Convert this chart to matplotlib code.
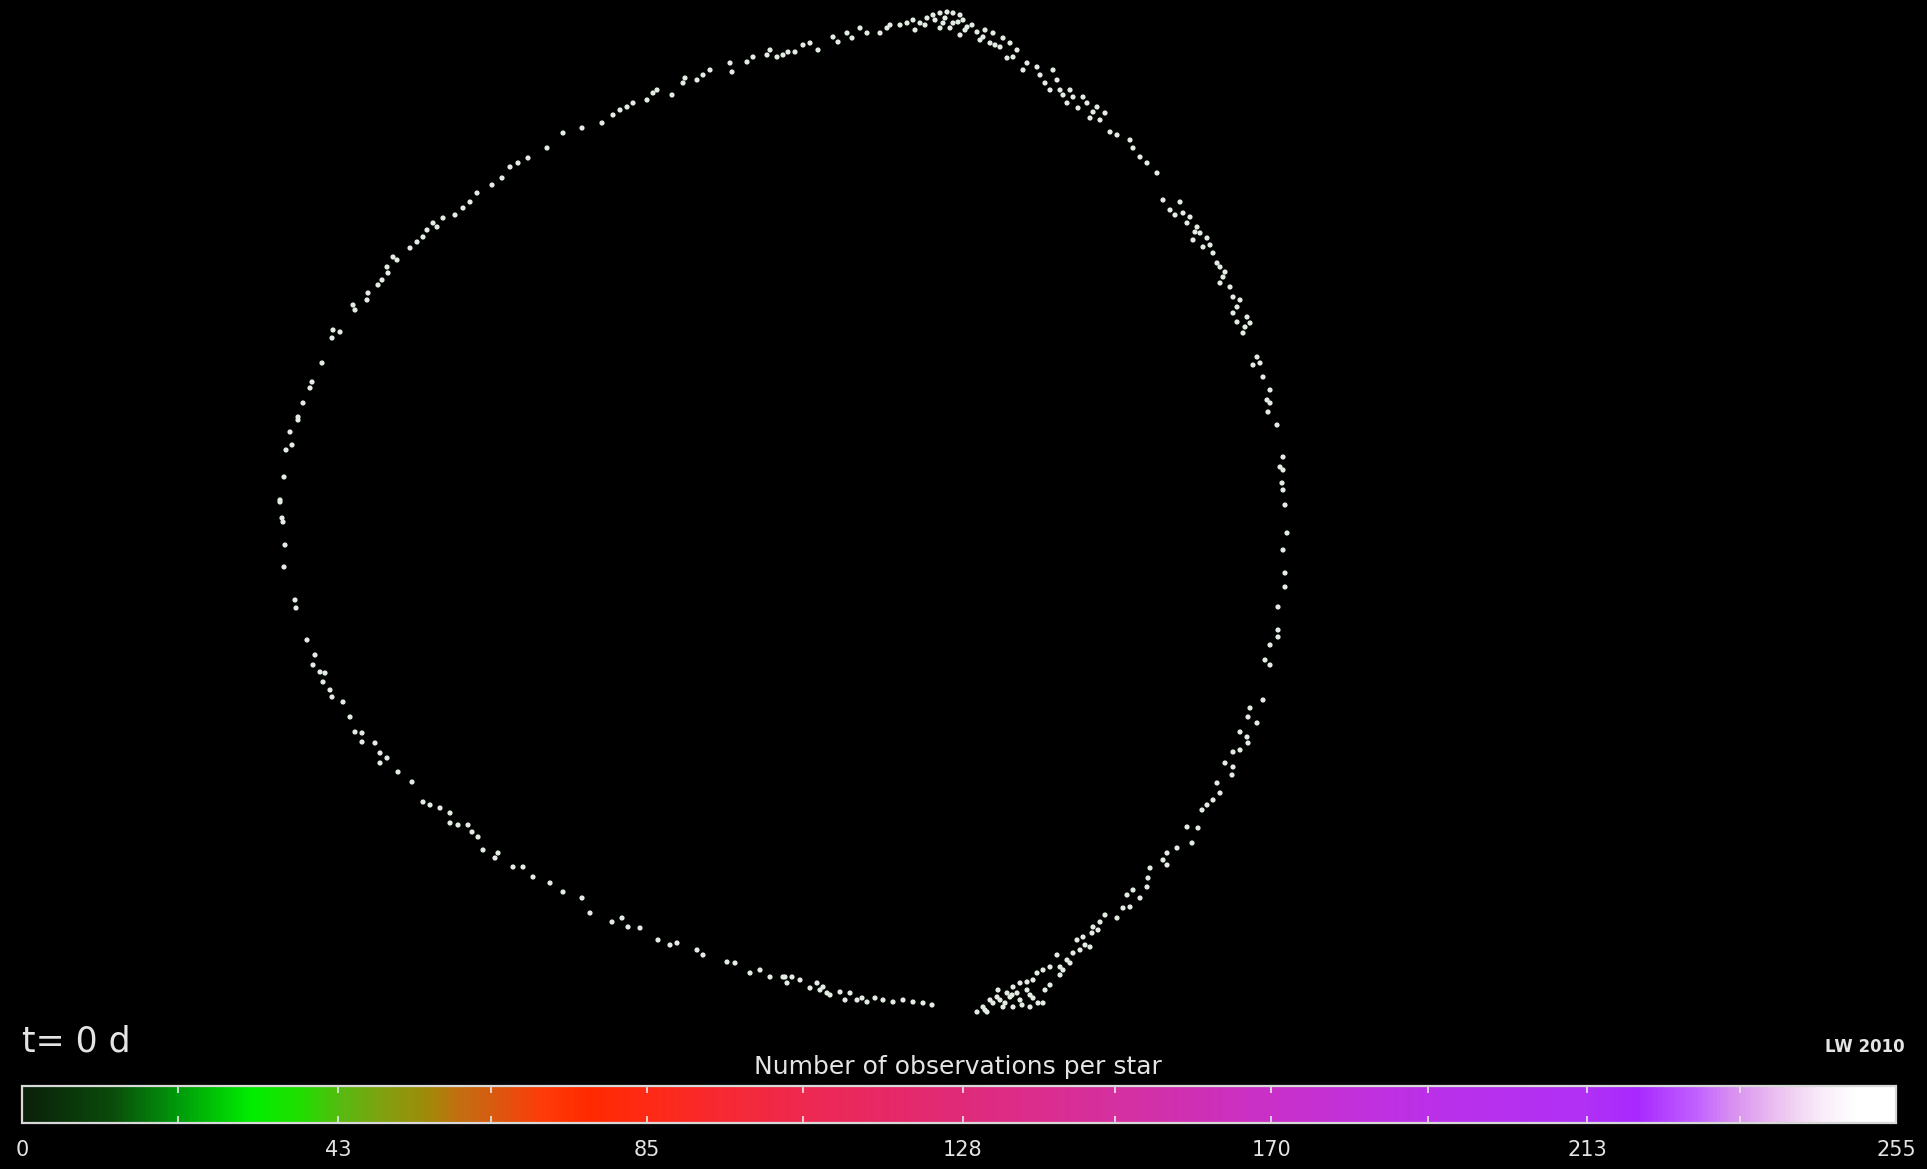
import matplotlib
matplotlib.use("Agg")
import matplotlib.pyplot as plt
from matplotlib.colors import LinearSegmentedColormap, Normalize
from matplotlib.cm import ScalarMappable

# star positions on the sky map (pixel frame, y grows downward)
star_x = [
    282, 280, 284, 286, 292, 290, 298, 298, 303, 310, 312, 322, 332, 340, 333,
    355, 353, 367, 368, 378, 382, 388, 387, 397, 393, 410, 417, 423, 427, 433,
    437, 443, 455, 463, 470, 477, 492, 502, 510, 518, 528, 547, 563, 582, 602,
    613, 620, 627, 633, 647, 653, 657, 672, 683, 685, 697, 703, 710, 732, 730,
    747, 753, 767, 777, 770, 788,
    783, 795, 803, 810, 818, 833, 838, 847, 852, 860, 867, 880, 887, 890, 900,
    907, 913, 920, 927, 933, 940, 947, 953, 960, 963, 943, 953, 967, 977, 983,
    993, 990, 1000, 1010, 1017, 1013, 1007, 1027, 1023, 1037, 1053, 1045, 1057,
    1060, 1070, 1073, 1067, 1083, 1087, 1097, 1105, 1090, 1110, 1117, 1130,
    1133, 1140, 1147, 1157, 1163, 1170, 1180, 1183, 1190, 1187, 1197, 1200,
    1193, 1207, 1203, 1213, 1217, 1220, 1223, 1220, 1230, 1233, 1237, 1233,
    1247, 1250, 1237, 1243, 1257, 1260, 1253, 1263, 1270, 1267, 1270, 1268,
    1277, 1283, 1280, 1283, 1282, 1283, 1285,
    1287, 1283, 1285, 1285, 1278, 1278, 1278, 1270, 1265, 1270, 1263, 1250,
    1248, 1257, 1240, 1247, 1248, 1240, 1233, 1225, 1233, 1232, 1217, 1220,
    1213, 1207, 1202, 1187, 1198, 1192, 1177, 1167, 1163, 1167, 1150, 1148,
    1147, 1133, 1127, 1140, 1130, 1123, 1117, 1105, 1100, 1093, 1092, 1083,
    1077, 1090, 1080, 1073, 1067, 1057, 1060, 1063, 1050, 1043, 1037, 1033,
    1027, 1020, 1013, 1027, 1017, 1010, 1007, 1000, 997, 1020, 1033, 1043,
    1030, 1013, 1003, 993, 983, 977, 987,
    932, 923, 913, 903, 893, 883, 875, 867, 857, 850, 840, 827, 820, 817, 823,
    800, 792, 783,
    280, 283, 285, 284, 295, 296, 307, 315, 313, 320, 325, 323, 330, 332, 343,
    350, 355, 362, 362, 375, 380, 387, 380, 398, 412, 423, 430, 440, 450, 450,
    458, 468, 472, 478, 483, 498, 495, 513, 523, 533, 550, 563, 582, 590, 612,
    622, 628, 640, 658, 670, 677, 697, 703, 727, 735, 750, 760, 770, 785, 787,
    # denser clumps near the top and lower right
    925, 935, 945, 950, 958, 965, 972, 980, 985, 995, 1003, 960, 940, 915,
    1040, 1050, 1063, 1078, 1093, 1100, 1175, 1195, 1210, 1225, 1240, 1245,
    990, 998, 1005, 1012, 1022, 1030, 1038, 985, 1045, 1050, 1060, 1070, 1085,
    1098, 830, 845, 862, 810,
]
star_y = [
    518, 500, 477, 450, 445, 432, 420, 417, 403, 388, 382, 363, 338, 332, 330,
    310, 305, 300, 293, 285, 280, 273, 267, 260, 257, 248, 242, 237, 230, 223,
    227, 218, 215, 208, 202, 193, 185, 178, 167, 163, 158, 148, 133, 128, 123,
    115, 110, 107, 103, 100, 93, 90, 95, 83, 78, 80, 75, 70, 72, 63,
    62, 57, 55, 57, 50, 52,
    55, 52, 45, 43, 50, 37, 42, 33, 38, 28, 33, 33, 28, 25, 25,
    23, 20, 23, 18, 15, 13, 12, 13, 15, 20, 23, 23, 27, 32, 37,
    33, 43, 47, 43, 50, 57, 58, 63, 70, 67, 70, 83, 80,
    90, 90, 97, 103, 97, 103, 107, 113, 118, 132, 135, 140,
    148, 157, 163, 173, 200, 210, 202, 213, 217, 223, 227, 233,
    240, 238, 247, 253, 263, 267, 277, 283, 287, 297, 307, 313,
    317, 323, 322, 333, 357, 363, 365, 377, 390, 400, 403, 412,
    425, 457, 467, 470, 483, 490, 505,
    533, 550, 573, 587, 607, 630, 637, 645, 660, 665, 700, 708,
    717, 723, 732, 737, 743, 750, 752, 763, 767, 775, 783, 793,
    800, 805, 810, 827, 828, 843, 848, 853, 860, 865, 868, 878,
    887, 890, 895, 898, 907, 908, 918, 915, 922, 927, 933, 937,
    940, 947, 950, 953, 960, 955, 967, 970, 967, 970, 973, 980,
    982, 983, 987, 990, 993, 997, 993, 1000, 997, 1000, 998, 1003,
    1007, 1007, 1007, 1003, 1007, 1012, 1012,
    1005, 1003, 1002, 1000, 1002, 1000, 998, 1002, 1000, 993, 992, 993, 990, 983, 987,
    980, 977, 977,
    502, 522, 545, 567, 600, 608, 640, 655, 665, 672, 673, 682, 690, 697, 702,
    717, 732, 733, 742, 743, 753, 758, 763, 772, 782, 802, 805, 808, 813, 823,
    825, 825, 832, 837, 850, 853, 858, 867, 867, 877, 883, 892, 898, 913, 922,
    918, 927, 928, 940, 945, 943, 950, 955, 962, 963, 973, 970, 977, 977, 983,
    25, 20, 18, 28, 22, 30, 25, 40, 30, 45, 38, 35, 28, 30,
    75, 90, 95, 108, 112, 120, 215, 232, 245, 272, 300, 327,
    1000, 990, 1003, 995, 1005, 995, 1003, 1010, 990, 985, 975, 963, 945,
    930, 995, 1000, 998, 988,
]

# colour scale for the number of observations
cbar_stops = [0, 12, 21, 31, 38, 43, 49, 55, 59, 64, 71, 77, 85, 106, 127,
              149, 170, 191, 213, 220, 228, 233, 239, 245, 250, 255]
cbar_colors = ["#0a200a", "#0a4a0a", "#009a0a", "#00ee00", "#22dd00", "#55bb10",
               "#80a010", "#a08a08", "#c07010", "#d85a10", "#ff3a08", "#ff2a00",
               "#ff2a15", "#ee2850", "#e02a78", "#d530a0", "#c830c8", "#bb30e8",
               "#b030f5", "#a828ff", "#c060ff", "#d890f0", "#ecc0f0", "#f8ecf8",
               "#ffffff", "#ffffff"]
tick_values = [0, 43, 85, 128, 170, 213, 255]
tick_labels = ["0", "43", "85", "128", "170", "213", "255"]
minor_values = [21.25, 63.75, 106.25, 148.75, 191.25, 233.75]

W, H = 1927, 1169
fig = plt.figure(figsize=(W / 100, H / 100), dpi=100, facecolor="black")

ax = fig.add_axes([0, 0, 1, 1])
ax.set_facecolor("black")
ax.set_xlim(0, W)
ax.set_ylim(H, 0)
ax.axis("off")

ax.scatter(star_x, star_y, s=14, color="#e2ece2", edgecolors="none")

txt = "#e4e4e4"
ax.text(22, 1042, "t= 0 d", color=txt, fontsize=25, va="center", ha="left")
ax.text(1905, 1047, "LW 2010", color=txt, fontsize=12, va="center", ha="right",
        fontweight="bold")
ax.text(958, 1067, "Number of observations per star", color=txt, fontsize=18,
        va="center", ha="center")

# horizontal colour bar
cmap = LinearSegmentedColormap.from_list(
    "obs", [(v / 255, c) for v, c in zip(cbar_stops, cbar_colors)], N=512)
cax = fig.add_axes([22 / W, 1 - 1123 / H, 1874 / W, 37 / H])
cb = fig.colorbar(ScalarMappable(norm=Normalize(0, 255), cmap=cmap), cax=cax,
                  orientation="horizontal")
cb.outline.set_edgecolor("#d8d8d8")
cb.outline.set_linewidth(1.6)
cb.set_ticks(tick_values, labels=tick_labels)
cax.set_xticks(minor_values, minor=True)
cax.tick_params(which="both", direction="in", length=5, width=1.2,
                color="#e8e8e8", top=True, bottom=True)
cax.tick_params(which="major", labelsize=15, labelcolor=txt, pad=12)

fig.savefig("out.png", dpi=100, facecolor="black")
